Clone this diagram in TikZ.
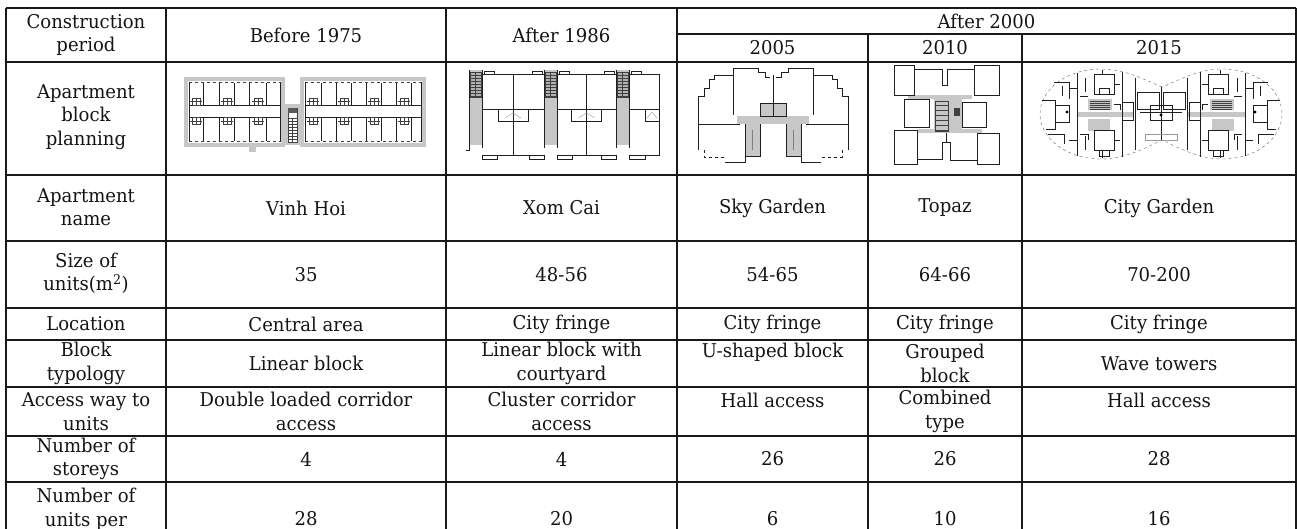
\documentclass[tikz,border=0pt]{standalone}
\usepackage{fontspec}
\setmainfont[FakeStretch=0.95]{DejaVu Serif}
\newcommand\lobedetail{%
  \fill[gfill] (1077,112) rectangle (1134,117);
  \fill[gfill] (1088,99) rectangle (1112,110);
  \foreach \yy in {101,103,...,109} \draw[hair] (1090,\yy) -- (1110,\yy);
  \fill[gfill] (1088,119) rectangle (1110,131);
  \draw[wall] (1077,73) -- (1077,156);
  \draw[wall] (1122,72) -- (1122,157);
  \draw[wall] (1135,78) -- (1135,150);
  \draw[wall] (1094,74) rectangle (1114,94);
  \draw[wall] (1099,88) rectangle (1109,94);
  \draw[wall] (1102,70) -- (1102,74);
  \draw[wall] (1094,130) rectangle (1114,150);
  \draw[wall] (1102,150) -- (1102,158);
  \draw[wall] (1099,150) rectangle (1109,156);
  \draw[wall] (1042,100) -- (1055,100) -- (1055,129) -- (1046,129);
  \draw[wall] (1055,105) rectangle (1069,122);
  \fill (1067,112) circle (1.6);
  \draw[wall] (1054,82) -- (1069,82) -- (1069,99);
  \draw[wall] (1062,86) -- (1062,96);
  \draw[wall] (1122,102) rectangle (1133,120);
  \draw[wall] (1048,134) -- (1064,134) -- (1064,144);
  \draw[wall] (1080,96) -- (1088,96);
  \draw[wall] (1080,134) -- (1088,134) -- (1088,140);
  \draw[wall] (1114,84) -- (1120,84);
  \draw[wall] (1114,140) -- (1120,140);
  \draw[wall] (1085,78) -- (1085,92);
  \draw[wall] (1085,136) -- (1085,150);
  \draw[wall] (1069,88) -- (1077,88);
  \draw[wall] (1069,140) -- (1077,140);
  \draw[wall] (1114,104) -- (1120,104) -- (1120,110);
}
\begin{document}
\begin{tikzpicture}[x=1pt,y=-1pt,
  tl/.style={line width=1.2pt, draw=black!90},
  wall/.style={line width=0.75pt, draw=black!88},
  hair/.style={line width=0.4pt, draw=black!75},
  gfill/.style={fill=black!22},
  txt/.style={inner sep=0pt, align=center, font=\fontsize{19}{23.5}\selectfont, text=black!92}]
\useasboundingbox (0,0) rectangle (1297,529);
\fill[white] (0,0) rectangle (1297,529);

% ---------- table grid ----------
\draw[tl] (6,8) -- (1296,8);
\draw[tl] (677,34) -- (1296,34);
\foreach \yy in {62,175,241,308,340,387,436,482}
  \draw[tl] (6,\yy) -- (1296,\yy);
\draw[tl] (6,8) -- (6,529);
\draw[tl] (166,8) -- (166,529);
\draw[tl] (446,8) -- (446,529);
\draw[tl] (677,8) -- (677,529);
\draw[tl] (868,34) -- (868,529);
\draw[tl] (1022,34) -- (1022,529);
\draw[tl] (1296,8) -- (1296,529);

% ---------- header ----------
\node[txt] (h0) at (86,35) {Construction\\period};
\node[txt] (h1) at (306,35) {Before 1975};
\node[txt] (h2) at (561.5,35) {After 1986};
\node[txt] (h3) at (986.5,21) {After 2000};
\node[txt] (h4) at (772.5,48) {2005};
\node[txt] (h5) at (945,48) {2010};
\node[txt] (h6) at (1159,48) {2015};

% ---------- row labels ----------
\node[txt] (l1) at (86,117) {Apartment\\block\\planning};
\node[txt] (l2) at (86,207) {Apartment\\name};
\node[txt] (l3) at (86,273.5) {Size of\\units(m\textsuperscript{2})};
\node[txt] (l4) at (86,324) {Location};
\node[txt] (l5) at (86,363.5) {Block\\typology};
\node[txt] (l6) at (86,411.5) {Access way to\\units};
\node[txt] (l7) at (86,459) {Number of\\storeys};
\node[txt] (l8) at (86,519) {Number of\\units per\\block};

% ---------- names ----------
\node[txt] (n1) at (306,208) {Vinh Hoi};
\node[txt] (n2) at (561.5,208) {Xom Cai};
\node[txt] (n3) at (772.5,208) {Sky Garden};
\node[txt] (n4) at (945,208) {Topaz};
\node[txt] (n5) at (1159,208) {City Garden};
% sizes
\node[txt] (s1) at (306,274.5) {35};
\node[txt] (s2) at (561.5,274.5) {48-56};
\node[txt] (s3) at (772.5,274.5) {54-65};
\node[txt] (s4) at (945,274.5) {64-66};
\node[txt] (s5) at (1159,274.5) {70-200};
% location
\node[txt] (o1) at (306,324) {Central area};
\node[txt] (o2) at (561.5,324) {City fringe};
\node[txt] (o3) at (772.5,324) {City fringe};
\node[txt] (o4) at (945,324) {City fringe};
\node[txt] (o5) at (1159,324) {City fringe};
% typology
\node[txt] (t1) at (306,363.5) {Linear block};
\node[txt] (t2) at (561.5,363.5) {Linear block with\\courtyard};
\node[txt] (t3) at (772.5,352) {U-shaped block};
\node[txt] (t4) at (945,363.5) {Grouped\\block};
\node[txt] (t5) at (1159,363.5) {Wave towers};
% access
\node[txt] (a1) at (306,411.5) {Double loaded corridor\\access};
\node[txt] (a2) at (561.5,411.5) {Cluster corridor\\access};
\node[txt] (a3) at (772.5,400) {Hall access};
\node[txt] (a4) at (945,411.5) {Combined\\type};
\node[txt] (a5) at (1159,400) {Hall access};
% storeys
\node[txt] (e1) at (306,459) {4};
\node[txt] (e2) at (561.5,459) {4};
\node[txt] (e3) at (772.5,459) {26};
\node[txt] (e4) at (945,459) {26};
\node[txt] (e5) at (1159,459) {28};
% units
\node[txt] (u1) at (306,519) {28};
\node[txt] (u2) at (561.5,519) {20};
\node[txt] (u3) at (772.5,519) {6};
\node[txt] (u4) at (945,519) {10};
\node[txt] (u5) at (1159,519) {16};

% ---------- plan 1: Before 1975 ----------
\fill[gfill] (184,77) rectangle (285,147);
\fill[white] (188,81) rectangle (281,143);
\fill[gfill] (300,77) rectangle (426,147);
\fill[white] (304,81) rectangle (422,143);
\fill[gfill] (284,104) rectangle (301,145);
\fill[gfill] (249,146) rectangle (256,152);
\draw[hair,dashed] (189,82.5) -- (280,82.5);
\draw[hair,dashed] (189,141.5) -- (280,141.5);
\draw[hair,dashed] (305,82.5) -- (421,82.5);
\draw[hair,dashed] (305,141.5) -- (421,141.5);
\draw[wall] (189,82) -- (189,142);
\draw[wall] (280,82) -- (280,142);
\draw[wall] (305,82) -- (305,142);
\draw[wall] (421,82) -- (421,142);
\draw[wall] (189,105) -- (280,105);
\draw[wall] (189,117) -- (280,117);
\draw[wall] (305,105) -- (421,105);
\draw[wall] (305,117) -- (421,117);
\foreach \xx in {203,219,234,249,266,321,336,351,366,381,396,411} {
  \draw[wall] (\xx,83) -- (\xx,105);
  \draw[wall] (\xx,117) -- (\xx,141);
}
\foreach \xx in {196,227,258,313,344,374,404} {
  \draw[hair] (\xx-4,98) rectangle (\xx+4,105);
  \draw[hair] (\xx,98) -- (\xx,105);
  \draw[hair] (\xx-4,117) rectangle (\xx+4,124);
  \draw[hair] (\xx,117) -- (\xx,124);
  \draw[hair] (\xx-6,101) -- (\xx+6,101);
  \draw[hair] (\xx-6,121) -- (\xx+6,121);
}
\draw[hair,fill=white] (288,108) rectangle (297,142);
\fill[black!65] (288,108) rectangle (297,113);
\foreach \yy in {118,121,...,141} \draw[hair] (288,\yy) -- (297,\yy);
\draw[hair] (292.5,118) -- (292.5,142);

% ---------- plan 2: After 1986 ----------
\foreach \s in {469,544,616} {
  \fill[gfill] (\s,70) rectangle (\s+13,145);
  \fill[black!30] (\s+1,72) rectangle (\s+12,97);
  \draw[hair] (\s+1,72) rectangle (\s+12,97);
  \foreach \yy in {75,78,...,96} \draw[hair] (\s+1,\yy) -- (\s+12,\yy);
  \draw[hair] (\s+6.5,72) -- (\s+6.5,97);
  \draw[wall] (\s,70) -- (\s,148);
  \draw[wall] (\s+13,70) -- (\s+13,148);
}
\draw[wall] (466,150) -- (469,150) -- (469,148);
\foreach \xa/\xb in {482/544,557/616} {
  \draw[wall] (\xa,74) -- (\xb,74);
  \draw[wall] (\xa,155) -- (\xb,155);
  \draw[wall] (\xa,109) -- (\xb,109);
  \draw[wall] ({(\xa+\xb)/2},74) -- ({(\xa+\xb)/2},155);
  \draw[wall] (\xa+2,74) -- (\xa+2,71) -- (\xa+12,71) -- (\xa+12,74);
  \draw[wall] (\xb-12,74) -- (\xb-12,71) -- (\xb-2,71) -- (\xb-2,74);
  \draw[wall] (\xa,155) -- (\xa,159) -- (\xa+15,159) -- (\xa+15,155);
  \draw[wall] (\xb-15,155) -- (\xb-15,159) -- (\xb,159) -- (\xb,155);
  \draw[wall] ({(\xa+\xb)/2-15},109) rectangle ({(\xa+\xb)/2+15},121);
  \draw[hair,black!40] ({(\xa+\xb)/2-8},118) -- ({(\xa+\xb)/2},113) -- ({(\xa+\xb)/2+8},118);
}
\draw[wall] (629,74) -- (659,74) -- (659,155) -- (629,155);
\draw[wall] (629,109) -- (659,109);
\draw[wall] (631,74) -- (631,71) -- (641,71) -- (641,74);
\draw[wall] (629,155) -- (629,159) -- (645,159) -- (645,155);
\draw[wall] (645,109) rectangle (659,121);
\draw[hair,black!40] (647,118) -- (652,112) -- (657,118);

% ---------- plan 3: 2005 ----------
\fill[gfill] (737,116) rectangle (809,124);
\fill[gfill] (760,103) rectangle (786,116);
\draw[wall] (760,103) rectangle (786,116);
\draw[hair] (773,103) -- (773,116);
\fill[gfill] (745,124) rectangle (760,156);
\fill[gfill] (786,124) rectangle (801,156);
\draw[wall] (745,124) -- (745,156) -- (760,156) -- (760,124);
\draw[wall] (786,124) -- (786,156) -- (801,156) -- (801,124);
\draw[hair,black!50] (752.5,130) -- (752.5,150);
\draw[hair,black!50] (793.5,130) -- (793.5,150);
\draw[wall] (773,75) -- (773,116);
\begin{scope}
\draw[wall] (733,115) -- (733,68) -- (758,68) -- (758,72) -- (765,72) -- (765,77) -- (770,77);
\draw[wall] (733,75) -- (714,75) -- (714,79) -- (709,79) -- (709,88) -- (704,88) -- (704,96) -- (698,96) -- (698,150);
\draw[wall] (698,124) -- (740,124);
\draw[wall,dashed] (704,150) -- (704,157) -- (724,157);
\draw[wall] (725,162) -- (745,162) -- (745,156);
\end{scope}
\begin{scope}[xshift=1546pt, xscale=-1]
\draw[wall] (733,115) -- (733,68) -- (758,68) -- (758,72) -- (765,72) -- (765,77) -- (770,77);
\draw[wall] (733,75) -- (714,75) -- (714,79) -- (709,79) -- (709,88) -- (704,88) -- (704,96) -- (698,96) -- (698,150);
\draw[wall] (698,124) -- (740,124);
\draw[wall,dashed] (704,150) -- (704,157) -- (724,157);
\draw[wall] (725,162) -- (745,162) -- (745,156);
\end{scope}

% ---------- plan 4: 2010 ----------
\fill[gfill] (908,95) rectangle (972,99);
\fill[gfill] (934,99) rectangle (962,133);
\fill[gfill] (918,129) rectangle (982,133);
\draw[wall] (894,65) rectangle (914,95);
\draw[wall] (914,69) -- (942,69) -- (942,85) -- (947,85) -- (947,69) -- (974,69);
\draw[wall] (974,65) -- (999,65) -- (999,95) -- (974,95) -- cycle;
\draw[wall] (904,99) rectangle (929,127);
\draw[wall] (962,102) rectangle (986,127);
\draw[hair] (935,101) rectangle (948,131);
\foreach \yy in {105,110,...,130} \draw[hair] (935,\yy) -- (948,\yy);
\fill[black!75] (954,108) rectangle (960,116);
\draw[wall] (894,130) rectangle (917,164);
\draw[wall] (917,159) -- (942,159) -- (942,142) -- (950,142) -- (950,160) -- (977,160);
\draw[wall] (946,133) -- (946,142);
\draw[wall] (977,133) rectangle (999,164);

% ---------- plan 5: 2015 ----------
\draw[hair,dashed,black!60] (1162,87) .. controls (1145,80) and (1125,69) .. (1101,69)
  .. controls (1066,69) and (1040,90) .. (1040,114)
  .. controls (1040,138) and (1066,159) .. (1101,159)
  .. controls (1125,159) and (1145,148) .. (1162,140)
  .. controls (1179,148) and (1199,159) .. (1222,159)
  .. controls (1257,159) and (1282,138) .. (1282,114)
  .. controls (1282,90) and (1257,69) .. (1222,69)
  .. controls (1199,69) and (1179,80) .. (1162,87);
\lobedetail
\begin{scope}[xshift=2322pt, xscale=-1]
\lobedetail
\end{scope}
\draw[wall] (1161,87) -- (1161,140);
\draw[wall] (1137,92) rectangle (1159,109);
\draw[wall] (1163,92) rectangle (1185,109);
\draw[wall] (1150,105) rectangle (1172,120);
\fill (1161,115) circle (1.6);
\draw[wall] (1140,112) -- (1182,112);
\draw[hair,black!40] (1145,134) rectangle (1177,140);
\end{tikzpicture}
\end{document}
